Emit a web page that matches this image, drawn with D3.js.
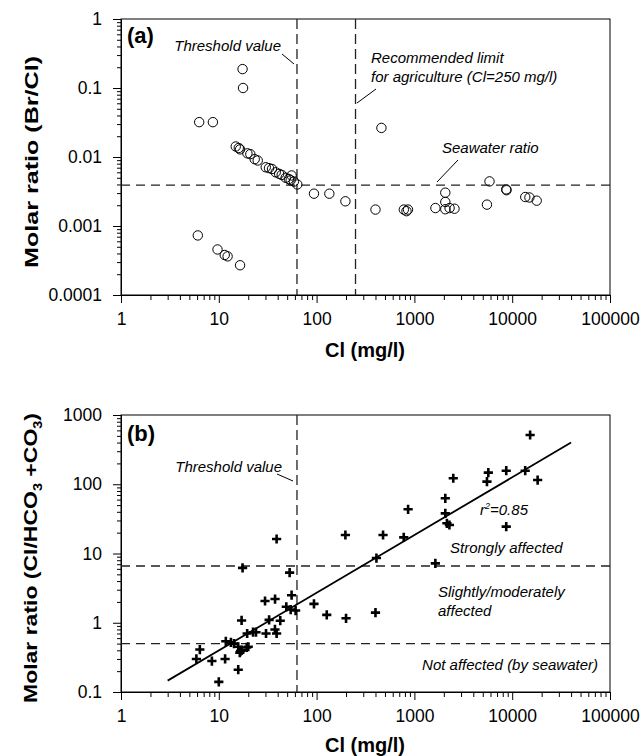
<!DOCTYPE html>
<html>
<head>
<meta charset="utf-8">
<script src="https://cdn.jsdelivr.net/npm/d3@7"></script>
<style>
  body { margin: 0; background: #fff; }
  text { font-family: "Liberation Sans", Arial, sans-serif; }
</style>
</head>
<body>
<svg id="chart" width="643" height="756"></svg>
<script>
// (a) Br/Cl molar ratio vs Cl
const clA = [17.5, 17.7, 6.3, 8.7,
  14.9, 16.0, 16.5, 19.6, 21, 23.3, 25, 30.2, 32.6, 35, 38.2, 41.4, 44, 48.3, 52, 55.5, 54.3, 58.6, 63.5,
  94, 135, 197, 400, 460, 780, 830, 860,
  1640, 2070, 2070, 2070, 2290, 2570, 5860, 5520, 8690, 8750, 13600, 15000, 17800,
  6.1, 9.7, 11.5, 12.3, 16.5];
const brClA = [0.188, 0.10, 0.032, 0.032,
  0.0142, 0.0135, 0.0129, 0.0113, 0.011, 0.0093, 0.0089, 0.0071, 0.0069, 0.0067, 0.006, 0.0057, 0.0055, 0.005, 0.0048, 0.0054, 0.0046, 0.0044, 0.004,
  0.00294, 0.00294, 0.00228, 0.00173, 0.0264, 0.00173, 0.00164, 0.00173,
  0.00182, 0.00304, 0.00223, 0.00175, 0.00182, 0.00178, 0.00443, 0.00204, 0.0034, 0.0033, 0.00263, 0.00259, 0.00233,
  0.00073, 0.000457, 0.00038, 0.000363, 0.00027];

// (b) Cl/(HCO3+CO3) molar ratio vs Cl
const clB = [39, 17.5, 53, 55.5, 29.7, 37.6, 49, 54.3, 61, 94, 127, 200,
  17.1, 32.7, 42.5, 19.5, 22.4, 24, 30.4, 37.5, 39, 11.8, 14.3, 15.8, 16.7, 19.3,
  6.4, 5.9, 8.5, 10, 11.6, 16.4, 17.1, 15.8, 20, 13.3,
  409, 400, 197, 478, 778, 862, 1638, 2070, 2070, 2150, 2280, 2497,
  5700, 5520, 8690, 8690, 13580, 15250, 18200];
const revB = [16.2, 6.2, 5.3, 2.5, 2.06, 2.2, 1.7, 1.55, 1.5, 1.87, 1.3, 1.16,
  1.08, 1.1, 1.07, 0.7, 0.73, 0.73, 0.7, 0.8, 0.7, 0.54, 0.5, 0.45, 0.39, 0.44,
  0.41, 0.3, 0.28, 0.14, 0.3, 0.37, 0.4, 0.21, 0.45, 0.52,
  8.6, 1.4, 18.5, 18.5, 17.1, 43.5, 7.2, 62.7, 38, 27.3, 25.8, 122,
  147, 109, 157, 24.4, 157, 514, 115];

// regression line end points (r2 = 0.85)
const fitCl = [3, 40000];
const fitRev = [0.146, 400];

const xTickLabels = ['1', '10', '100', '1000', '10000', '100000'];
const yTickLabelsA = ['0.0001', '0.001', '0.01', '0.1', '1'];
const yTickLabelsB = ['0.1', '1', '10', '100', '1000'];

const thresholdCl = 63;
const agricultureCl = 250;
const seawaterBrCl = 0.0039;
const revelleLimits = [0.5, 6.6];

const svg = d3.select('#chart');
svg.append('rect').attr('width', 643).attr('height', 756).attr('fill', '#fff');

const x = d3.scaleLog().domain([1, 100000]).range([121, 610]);
const yA = d3.scaleLog().domain([0.0001, 1]).range([295, 19]);
const yB = d3.scaleLog().domain([0.1, 1000]).range([692, 415]);

function minors(lo, hi) {
  const out = [];
  for (let d = lo; d < hi; d *= 10) {
    for (let k = 2; k <= 9; k++) out.push(d * k);
  }
  return out;
}

function drawAxes(y, yLabels) {
  const bottom = y.range()[0], top = y.range()[1];
  const [x0, x1] = x.range();

  // frame
  svg.append('rect')
    .attr('x', x0).attr('y', top)
    .attr('width', x1 - x0).attr('height', bottom - top)
    .attr('fill', 'none').attr('stroke', '#000').attr('stroke-width', 1);

  svg.append('g')
    .attr('transform', `translate(0,${bottom})`)
    .call(d3.axisBottom(x)
      .tickValues(xTickLabels.map(Number))
      .tickFormat((d, i) => xTickLabels[i])
      .tickSize(8).tickSizeOuter(0).tickPadding(10));
  svg.append('g')
    .attr('transform', `translate(0,${bottom})`)
    .call(d3.axisBottom(x).tickValues(minors(1, 100000)).tickFormat('').tickSize(5).tickSizeOuter(0));

  svg.append('g')
    .attr('transform', `translate(${x0},0)`)
    .call(d3.axisLeft(y)
      .tickValues(yLabels.map(Number))
      .tickFormat((d, i) => yLabels[i])
      .tickSize(8).tickSizeOuter(0).tickPadding(11));
  svg.append('g')
    .attr('transform', `translate(${x0},0)`)
    .call(d3.axisLeft(y).tickValues(minors(+yLabels[0], +yLabels[yLabels.length - 1])).tickFormat('').tickSize(4).tickSizeOuter(0));

  svg.selectAll('.tick text')
    .attr('font-family', '"Liberation Sans", Arial, sans-serif')
    .attr('font-size', 17.5).attr('fill', '#000');
  svg.selectAll('.domain, .tick line').attr('stroke', '#000');
}

function dashed(x1, y1, x2, y2, dash) {
  svg.append('line')
    .attr('x1', x1).attr('y1', y1).attr('x2', x2).attr('y2', y2)
    .attr('stroke', '#222').attr('stroke-width', 1.3)
    .attr('stroke-dasharray', dash);
}

function label(txt, px, py, opts = {}) {
  return svg.append('text')
    .attr('x', px).attr('y', py)
    .attr('font-size', opts.size || 15)
    .attr('font-style', opts.italic === false ? 'normal' : 'italic')
    .attr('font-weight', opts.bold ? 'bold' : 'normal')
    .attr('text-anchor', opts.anchor || 'start')
    .text(txt);
}

function leader(x1, y1, x2, y2) {
  svg.append('line')
    .attr('x1', x1).attr('y1', y1).attr('x2', x2).attr('y2', y2)
    .attr('stroke', '#000').attr('stroke-width', 1);
}

// ---------- panel (a) ----------
drawAxes(yA, yTickLabelsA);

dashed(x(thresholdCl), yA.range()[1], x(thresholdCl), yA.range()[0], '10,5');
dashed(x(agricultureCl), yA.range()[1], x(agricultureCl), yA.range()[0], '10,5');
dashed(x.range()[0], yA(seawaterBrCl), x.range()[1], yA(seawaterBrCl), '9,6');

svg.append('g').selectAll('circle')
  .data(clA.map((c, i) => [c, brClA[i]]))
  .enter().append('circle')
  .attr('cx', d => x(d[0]))
  .attr('cy', d => yA(d[1]))
  .attr('r', 4.7)
  .attr('fill', 'none')
  .attr('stroke', '#000')
  .attr('stroke-width', 1);

label('(a)', 127, 43, { size: 22, bold: true, italic: false });
label('Threshold value', 281, 51, { anchor: 'end' });
leader(282, 54, 294, 64);
label('Recommended limit', 371, 63);
label('for agriculture (Cl=250 mg/l)', 371, 82);
leader(357, 103, 376, 89);
label('Seawater ratio', 442, 153);
leader(458, 160, 437, 182);

svg.append('text')
  .attr('x', 365).attr('y', 357)
  .attr('text-anchor', 'middle')
  .attr('font-size', 20).attr('font-weight', 'bold')
  .text('Cl (mg/l)');

svg.append('text')
  .attr('transform', 'translate(38,162) rotate(-90)')
  .attr('text-anchor', 'middle')
  .attr('font-size', 19).attr('font-weight', 'bold')
  .attr('textLength', 212).attr('lengthAdjust', 'spacingAndGlyphs')
  .text('Molar ratio (Br/Cl)');

// ---------- panel (b) ----------
drawAxes(yB, yTickLabelsB);

dashed(x(thresholdCl), yB.range()[1], x(thresholdCl), yB.range()[0], '10,5');
revelleLimits.forEach(v => dashed(x.range()[0], yB(v), x.range()[1], yB(v), '9,6'));

svg.append('path')
  .datum(fitCl.map((c, i) => [c, fitRev[i]]))
  .attr('d', d3.line().x(d => x(d[0])).y(d => yB(d[1])))
  .attr('fill', 'none').attr('stroke', '#000').attr('stroke-width', 1.8);

svg.append('g').selectAll('path.cross')
  .data(clB.map((c, i) => [c, revB[i]]))
  .enter().append('path')
  .attr('class', 'cross')
  .attr('transform', d => `translate(${x(d[0])},${yB(d[1])})`)
  .attr('d', 'M-4.6,0H4.6M0,-4.6V4.6')
  .attr('stroke', '#000')
  .attr('stroke-width', 2.6);

label('(b)', 127, 441, { size: 22, bold: true, italic: false });
label('Threshold value', 282, 472, { anchor: 'end' });
leader(277, 474, 293, 481);

const r2 = label('r', 480, 515);
r2.append('tspan').attr('font-size', 9).attr('dy', -6).text('2');
r2.append('tspan').attr('dy', 6).text('=0.85');
label('Strongly affected', 450, 553);
label('Slightly/moderately', 438, 597);
label('affected', 438, 616);
label('Not affected (by seawater)', 598, 670, { anchor: 'end' });

svg.append('text')
  .attr('x', 365).attr('y', 752)
  .attr('text-anchor', 'middle')
  .attr('font-size', 20).attr('font-weight', 'bold')
  .text('Cl (mg/l)');

const yl = svg.append('text')
  .attr('transform', 'translate(37,558) rotate(-90)')
  .attr('text-anchor', 'middle')
  .attr('font-size', 19).attr('font-weight', 'bold')
  .attr('textLength', 290).attr('lengthAdjust', 'spacingAndGlyphs');
yl.append('tspan').text('Molar ratio (Cl/HCO');
yl.append('tspan').attr('font-size', 12).attr('dy', 5).text('3');
yl.append('tspan').attr('dy', -5).text(' +CO');
yl.append('tspan').attr('font-size', 12).attr('dy', 5).text('3');
yl.append('tspan').attr('dy', -5).text(')');
</script>
</body>
</html>
